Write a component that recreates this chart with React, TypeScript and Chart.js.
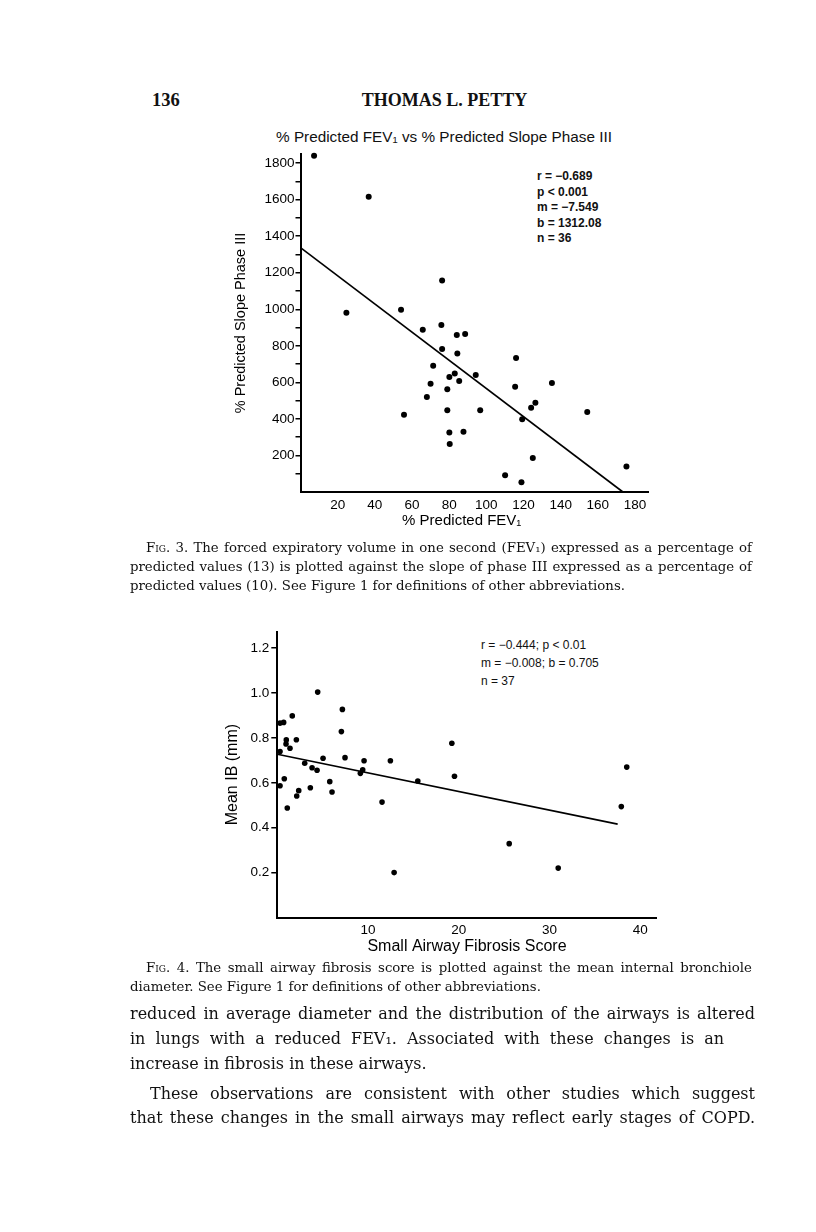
import React, { useEffect, useRef } from 'react';
import { Chart, registerables } from 'chart.js';

Chart.register(...registerables);

// ---------- Fig. 3 data ----------
const fev1Pct = [7.3, 36.7, 24.7, 54.1, 76.2, 75.8, 65.8, 84.1, 88.6, 76.2, 84.4, 116, 71.4, 83, 80.1, 94.3, 85.4, 70, 79, 115.5, 135.3, 68, 126.4, 124.1, 79, 96.7, 154.3, 55.7, 119.3, 80.1, 87.7, 80.3, 125, 175.4, 110.1, 118.9];
const slopePct = [1841, 1616, 981, 997, 1157, 914, 888, 859, 865, 783, 758, 734, 691, 649, 630, 640, 607, 593, 562, 576, 597, 520, 489, 461, 447, 447, 438, 423, 398, 325, 330, 263, 186, 139, 91, 53];
const fig3FitX = [0, 173.5];
const fig3FitY = [1338, 0];
const fig3XTicks = [20, 40, 60, 80, 100, 120, 140, 160, 180];
const fig3YTicks = [100, 200, 300, 400, 500, 600, 700, 800, 900, 1000, 1100, 1200, 1300, 1400, 1500, 1600, 1700, 1800];
const fig3Stats = ['r = −0.689', 'p < 0.001', 'm = −7.549', 'b = 1312.08', 'n = 36'];

// ---------- Fig. 4 data ----------
const fibrosisScore = [4.45, 7.17, 1.65, 0.3, 0.7, 7.06, 0.99, 2.1, 0.96, 1.4, 0.3, 5.04, 7.46, 9.56, 12.46, 3.02, 3.83, 4.38, 9.41, 9.15, 15.48, 0.77, 5.78, 0.3, 19.23, 19.52, 6.03, 3.64, 2.36, 2.14, 11.54, 1.1, 12.87, 37.9, 25.55, 30.95, 38.5];
const meanIB = [1.004, 0.927, 0.898, 0.866, 0.869, 0.828, 0.791, 0.792, 0.773, 0.754, 0.739, 0.709, 0.712, 0.698, 0.698, 0.687, 0.667, 0.656, 0.658, 0.642, 0.608, 0.618, 0.605, 0.587, 0.776, 0.629, 0.559, 0.578, 0.565, 0.541, 0.514, 0.488, 0.2, 0.494, 0.329, 0.22, 0.67];
const fig4FitX = [0, 37.5];
const fig4FitY = [0.727, 0.416];
const fig4XTicks = [10, 20, 30, 40];
const fig4YTicks = [0.2, 0.4, 0.6, 0.8, 1.0, 1.2];
const fig4Stats = ['r = −0.444; p < 0.01', 'm = −0.008; b = 0.705', 'n = 37'];

// ---------- page text ----------
const fig3Caption = [
  'The forced expiratory volume in one second (FEV₁) expressed as a percentage of',
  'predicted values (13) is plotted against the slope of phase III expressed as a percentage of',
  'predicted values (10). See Figure 1 for definitions of other abbreviations.',
];
const fig4Caption = [
  'The small airway fibrosis score is plotted against the mean internal bronchiole',
  'diameter. See Figure 1 for definitions of other abbreviations.',
];
const bodyLines = [
  'reduced in average diameter and the distribution of the airways is altered',
  'in lungs with a reduced FEV₁. Associated with these changes is an',
  'increase in fibrosis in these airways.',
  'These observations are consistent with other studies which suggest',
  'that these changes in the small airways may reflect early stages of COPD.',
];

const SANS = '"Liberation Sans", Arial, Helvetica, sans-serif';
const SERIF = '"Liberation Serif", "Times New Roman", serif';
const BOOK = '"DejaVu Serif", "Liberation Serif", serif';

function pts(xs: number[], ys: number[]) {
  return xs.map((x, i) => ({ x, y: ys[i] }));
}

function Fig3Chart() {
  const ref = useRef<HTMLCanvasElement>(null);
  useEffect(() => {
    const chart = new Chart(ref.current as HTMLCanvasElement, {
      type: 'scatter',
      data: {
        datasets: [
          {
            data: pts(fev1Pct, slopePct),
            pointRadius: 3,
            pointBackgroundColor: '#000',
            pointBorderWidth: 0,
            clip: false,
          } as any,
          {
            data: pts(fig3FitX, fig3FitY),
            showLine: true,
            borderColor: '#000',
            borderWidth: 1.6,
            pointRadius: 0,
            clip: false,
          } as any,
        ],
      },
      options: {
        animation: false,
        responsive: false,
        devicePixelRatio: 1,
        layout: { padding: { left: 0, top: 34, right: 32, bottom: 0 } },
        plugins: { legend: { display: false }, tooltip: { enabled: false }, title: { display: false } },
        scales: {
          x: {
            type: 'linear',
            min: 0,
            max: 187,
            afterBuildTicks: (s: any) => { s.ticks = fig3XTicks.map((v) => ({ value: v })); },
            afterFit: (s: any) => { s.height = 48; },
            border: { display: true, color: '#000', width: 2 },
            grid: { display: true, drawOnChartArea: false, drawTicks: false },
            ticks: { color: '#000', font: { family: SANS, size: 13.5 }, padding: 5, maxRotation: 0, autoSkip: false },
            title: { display: true, text: '% Predicted FEV₁      ', color: '#000', font: { family: SANS, size: 15 }, padding: { top: 0, bottom: 10 } },
          },
          y: {
            type: 'linear',
            min: 0,
            max: 1850,
            afterBuildTicks: (s: any) => { s.ticks = fig3YTicks.map((v) => ({ value: v })); },
            afterFit: (s: any) => { s.width = 120.5; },
            border: { display: true, color: '#000', width: 2 },
            grid: { display: true, drawOnChartArea: false, drawTicks: true, tickLength: 5, color: '#000', lineWidth: 1.5 },
            ticks: {
              color: '#000',
              font: { family: SANS, size: 13.5 },
              padding: 1,
              autoSkip: false,
              callback: (v: any) => (Number(v) % 200 === 0 ? String(v) : ''),
            },
            title: { display: true, text: '% Predicted Slope Phase III', color: '#000', font: { family: SANS, size: 14.5 }, padding: { top: 52.3, bottom: 0 } },
          },
        },
      },
    } as any);
    return () => chart.destroy();
  }, []);
  return <canvas ref={ref} width={500} height={420} style={{ position: 'absolute', left: 180, top: 120 }} />;
}

function Fig4Chart() {
  const ref = useRef<HTMLCanvasElement>(null);
  useEffect(() => {
    const chart = new Chart(ref.current as HTMLCanvasElement, {
      type: 'scatter',
      data: {
        datasets: [
          {
            data: pts(fibrosisScore, meanIB),
            pointRadius: 2.8,
            pointBackgroundColor: '#000',
            pointBorderWidth: 0,
            clip: false,
          } as any,
          {
            data: pts(fig4FitX, fig4FitY),
            showLine: true,
            borderColor: '#000',
            borderWidth: 1.6,
            pointRadius: 0,
            clip: false,
          } as any,
        ],
      },
      options: {
        animation: false,
        responsive: false,
        devicePixelRatio: 1,
        layout: { padding: { left: 0, top: 11.7, right: 23.3, bottom: 0 } },
        plugins: { legend: { display: false }, tooltip: { enabled: false }, title: { display: false } },
        scales: {
          x: {
            type: 'linear',
            min: 0,
            max: 41.8,
            afterBuildTicks: (s: any) => { s.ticks = fig4XTicks.map((v) => ({ value: v })); },
            afterFit: (s: any) => { s.height = 42.5; },
            border: { display: true, color: '#000', width: 2 },
            grid: { display: true, drawOnChartArea: false, drawTicks: false },
            ticks: { color: '#000', font: { family: SANS, size: 13.5 }, padding: 5, maxRotation: 0, autoSkip: false },
            title: { display: true, text: 'Small Airway Fibrosis Score', color: '#000', font: { family: SANS, size: 16 }, padding: { top: 0, bottom: 3.4 } },
          },
          y: {
            type: 'linear',
            min: 0,
            max: 1.273,
            afterBuildTicks: (s: any) => { s.ticks = fig4YTicks.map((v) => ({ value: v })); },
            afterFit: (s: any) => { s.width = 97.3; },
            border: { display: true, color: '#000', width: 2 },
            grid: { display: true, drawOnChartArea: false, drawTicks: true, tickLength: 6, color: '#000', lineWidth: 1.5 },
            ticks: {
              color: '#000',
              font: { family: SANS, size: 13.5 },
              padding: 2,
              autoSkip: false,
              callback: (v: any) => Number(v).toFixed(1),
            },
            title: { display: true, text: 'Mean IB (mm)', color: '#000', font: { family: SANS, size: 16 }, padding: { top: 43.4, bottom: 0 } },
          },
        },
      },
    } as any);
    return () => chart.destroy();
  }, []);
  return <canvas ref={ref} width={500} height={340} style={{ position: 'absolute', left: 180, top: 620 }} />;
}

type LineProps = {
  x: number;
  cy: number;
  size: number;
  family: string;
  weight?: number | string;
  lh?: number;
  width?: number;
  align?: 'left' | 'center' | 'justify';
  children: React.ReactNode;
};

function Line({ x, cy, size, family, weight = 400, lh = 20, width, align = 'left', children }: LineProps) {
  const style: React.CSSProperties = {
    position: 'absolute',
    left: x,
    top: cy - lh / 2,
    lineHeight: lh + 'px',
    height: lh,
    fontSize: size,
    fontFamily: family,
    fontWeight: weight as any,
    color: '#111',
    whiteSpace: 'nowrap',
  };
  if (width !== undefined) style.width = width;
  if (align === 'center') style.textAlign = 'center';
  if (align === 'justify') {
    style.textAlign = 'justify';
    (style as any).textAlignLast = 'justify';
  }
  return <div style={style}>{children}</div>;
}

const FigLabel = ({ n }: { n: number }) => (
  <span>
    F<span style={{ fontVariant: 'small-caps' }}>ig</span>. {n}.{' '}
  </span>
);

export default function App() {
  const capSize = 13.3;
  const bodySize = 16;
  return (
    <div style={{ position: 'absolute', left: 0, top: 0, width: 816, height: 1232, overflow: 'hidden', background: '#fff' }}>
      {/* running header */}
      <Line x={152} cy={100} size={18.5} family={SERIF} weight={700}>136</Line>
      <Line x={294.5} cy={100} size={18} family={SERIF} weight={700} width={300} align="center">THOMAS L. PETTY</Line>

      {/* Fig. 3 */}
      <Line x={194} cy={137} size={15.3} family={SANS} width={500} align="center">
        % Predicted FEV₁ vs % Predicted Slope Phase III
      </Line>
      {fig3Stats.map((s, i) => (
        <Line key={s} x={537} cy={176 + i * 15.5} size={12} family={SANS} weight={700} lh={14}>{s}</Line>
      ))}
      <Fig3Chart />
      <Line x={146} cy={548} size={capSize} family={BOOK} width={606} align="justify"><FigLabel n={3} />{fig3Caption[0]}</Line>
      <Line x={130} cy={567} size={capSize} family={BOOK} width={622} align="justify">{fig3Caption[1]}</Line>
      <Line x={130} cy={586} size={capSize} family={BOOK}>{fig3Caption[2]}</Line>

      {/* Fig. 4 */}
      {fig4Stats.map((s, i) => (
        <Line key={s} x={481} cy={645 + i * 18} size={12} family={SANS} lh={14}>{s}</Line>
      ))}
      <Fig4Chart />
      <Line x={146} cy={968} size={capSize} family={BOOK} width={606} align="justify"><FigLabel n={4} />{fig4Caption[0]}</Line>
      <Line x={130} cy={987} size={capSize} family={BOOK}>{fig4Caption[1]}</Line>

      {/* body text */}
      <Line x={130} cy={1014} size={bodySize} family={BOOK} width={625} align="justify" lh={24}>{bodyLines[0]}</Line>
      <Line x={130} cy={1039} size={bodySize} family={BOOK} width={594} align="justify" lh={24}>{bodyLines[1]}</Line>
      <Line x={130} cy={1064} size={bodySize} family={BOOK} lh={24}>{bodyLines[2]}</Line>
      <Line x={150} cy={1094} size={bodySize} family={BOOK} width={605} align="justify" lh={24}>{bodyLines[3]}</Line>
      <Line x={130} cy={1118} size={bodySize} family={BOOK} width={625} align="justify" lh={24}>{bodyLines[4]}</Line>
    </div>
  );
}
